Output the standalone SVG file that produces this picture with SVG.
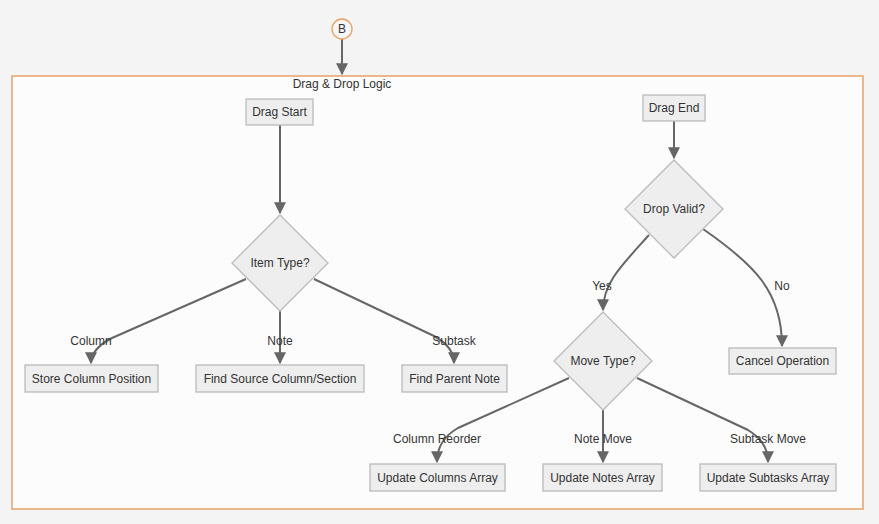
<svg xmlns="http://www.w3.org/2000/svg" width="879" height="524" viewBox="0 0 879 524">
<defs>
<style>
text{font-family:"Liberation Sans",Arial,sans-serif;font-size:12px;fill:#333;text-anchor:middle;dominant-baseline:central}
.n rect,.n polygon{fill:#eeeeee;stroke:#bbbbbb;stroke-width:1.3}
.e path{fill:none;stroke:#666;stroke-width:2;marker-end:url(#ah)}
</style>
<marker id="ah" viewBox="0 0 10 10" refX="9" refY="5" markerWidth="6" markerHeight="6" markerUnits="strokeWidth" orient="auto">
<path d="M0,0 L10,5 L0,10 z" fill="#666"/>
</marker>
</defs>
<rect x="0" y="0" width="879" height="524" fill="#f4f4f4"/>
<g id="cluster">
<rect x="12" y="76" width="851" height="433" fill="#fcfcfc" stroke="#e8a165" stroke-width="1.5"/>
<text x="342" y="84">Drag &amp; Drop Logic</text>
</g>
<g class="e" id="connectors">
<path d="M342,39 L342,74"/>
<path d="M280,124 L280,213"/>
<path d="M246,279 L112,338 Q91,349 91,363"/>
<path d="M280,311 L280,363"/>
<path d="M314,279 L434,336 Q454,347 454,363"/>
<path d="M674,121 L674,158"/>
<path d="M649,235 C622,265 603,283 603,310"/>
<path d="M703,229 C755,265 782,292 782,346"/>
<path d="M569,378 L458,428 Q437,440 437,462"/>
<path d="M603,410 L603,462"/>
<path d="M637,378 L748,430 Q768,442 768,462"/>
</g>
<g id="edge-labels">
<text x="91" y="341">Column</text>
<text x="280" y="341">Note</text>
<text x="454" y="341">Subtask</text>
<text x="602" y="286">Yes</text>
<text x="782" y="286">No</text>
<text x="437" y="439">Column Reorder</text>
<text x="603" y="439">Note Move</text>
<text x="768" y="439">Subtask Move</text>
</g>
<g id="B"><circle cx="342" cy="29" r="10" fill="#f7f7f7" stroke="#e8a165" stroke-width="1.3"/><text x="342" y="29">B</text></g>
<g id="dragStart" class="n"><rect x="246" y="99" width="67" height="26"/><text x="279.5" y="112">Drag Start</text></g>
<g id="itemType" class="n"><polygon points="280,215 328,263 280,311 232,263"/><text x="280" y="263">Item Type?</text></g>
<g id="storeCol" class="n"><rect x="25" y="365" width="133" height="27"/><text x="91.5" y="378.5">Store Column Position</text></g>
<g id="findSource" class="n"><rect x="196" y="365" width="168" height="27"/><text x="280" y="378.5">Find Source Column/Section</text></g>
<g id="findParent" class="n"><rect x="402" y="365" width="105" height="27"/><text x="454.5" y="378.5">Find Parent Note</text></g>
<g id="dragEnd" class="n"><rect x="643" y="95" width="62" height="26"/><text x="674" y="108">Drag End</text></g>
<g id="dropValid" class="n"><polygon points="674,160 723,209 674,258 625,209"/><text x="674" y="209">Drop Valid?</text></g>
<g id="cancel" class="n"><rect x="729" y="348" width="107" height="26"/><text x="782.5" y="361">Cancel Operation</text></g>
<g id="moveType" class="n"><polygon points="603,312 652,361 603,410 554,361"/><text x="603" y="361">Move Type?</text></g>
<g id="updCols" class="n"><rect x="370" y="464" width="135" height="27"/><text x="437.5" y="477.5">Update Columns Array</text></g>
<g id="updNotes" class="n"><rect x="543" y="464" width="119" height="27"/><text x="602.5" y="477.5">Update Notes Array</text></g>
<g id="updSubs" class="n"><rect x="700" y="464" width="136" height="27"/><text x="768" y="477.5">Update Subtasks Array</text></g>
</svg>
